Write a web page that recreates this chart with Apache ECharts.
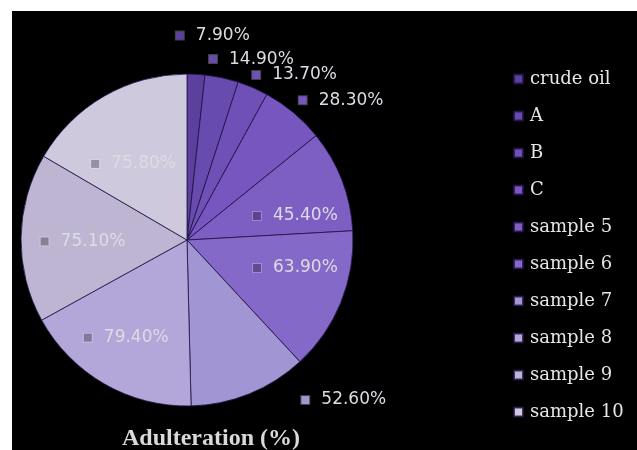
<!DOCTYPE html>
<html>
<head>
<meta charset="utf-8">
<script src="https://cdn.jsdelivr.net/npm/echarts@6/dist/echarts.min.js"></script>
<style>
html,body{margin:0;padding:0;background:#fff;width:637px;height:450px;overflow:hidden;}
#c{position:absolute;left:12px;top:11px;width:625px;height:439px;background:#000;}
</style>
</head>
<body>
<div id="c"></div>
<script>
const categories = ['crude oil','A','B','C','sample 5','sample 6','sample 7','sample 8','sample 9','sample 10'];
const values = [7.9, 14.9, 13.7, 28.3, 45.4, 63.9, 52.6, 79.4, 75.1, 75.8];
const colors = ['#5c409e','#684bae','#6e50b6','#7757bf','#7d5fc4','#8569c9','#a295d3','#b3a7d9','#bdb5d2','#cfc9de'];
const chartTitle = 'Adulteration (%)';

// label placement (Excel "best fit"), polar about the pie centre: [angle deg clockwise from top, radius px]
const labelPolar = [[7.2,206],[19.6,192],[33.1,197],[47.8,208],[77.5,111],[104.5,112],[135.6,224],[211.9,115],[269.2,104],[324.9,93]];

const cx = 175, cy = 229, R = 166;

function shade(hex, f) {
  const n = parseInt(hex.slice(1), 16);
  const r = Math.round(((n >> 16) & 255) * f), g = Math.round(((n >> 8) & 255) * f), b = Math.round((n & 255) * f);
  return 'rgb(' + r + ',' + g + ',' + b + ')';
}

const chart = echarts.init(document.getElementById('c'));
const data = categories.map((name, i) => ({
  name: name,
  value: values[i],
  itemStyle: {color: colors[i]},
  label: {
    rich: {
      m: {width: 8, height: 8, backgroundColor: shade(colors[i], labelPolar[i][1] > R ? 1.0 : 0.72),
          borderColor: 'rgba(255,255,255,0.25)', borderWidth: 1},
      v: {fontFamily: 'DejaVu Sans', fontSize: 17, color: '#dddbe3', padding: [0,0,0,12]}
    }
  }
}));

chart.setOption({
  animation: false,
  backgroundColor: '#000',
  title: {
    text: chartTitle,
    left: 199, top: 416, textAlign: 'center', padding: 0,
    textStyle: {fontFamily: 'Liberation Serif', fontWeight: 'bold', fontSize: 24, color: '#d9d9d9'}
  },
  legend: {
    orient: 'vertical',
    left: 501, top: 59, padding: 0,
    itemWidth: 9, itemHeight: 9, itemGap: 19,
    icon: 'rect',
    textStyle: {fontFamily: 'DejaVu Serif', fontSize: 18, lineHeight: 18, color: '#e6e6e6', padding: [0,0,0,2]},
    data: categories
  },
  series: [{
    type: 'pie',
    center: [cx, cy],
    radius: R,
    startAngle: 90,
    clockwise: true,
    avoidLabelOverlap: false,
    itemStyle: {borderColor: 'rgba(35,18,70,0.8)', borderWidth: 1},
    label: {
      position: 'inside',
      formatter: p => '{m|}{v|' + p.value.toFixed(2) + '%}',
      color: '#dcdae2'
    },
    labelLine: {show: false},
    labelLayout: function (p) {
      const lp = labelPolar[p.dataIndex];
      const a = lp[0] * Math.PI / 180;
      return {x: cx + lp[1] * Math.sin(a), y: cy - lp[1] * Math.cos(a), align: 'center', verticalAlign: 'middle'};
    },
    data: data
  }]
});
</script>
</body>
</html>
